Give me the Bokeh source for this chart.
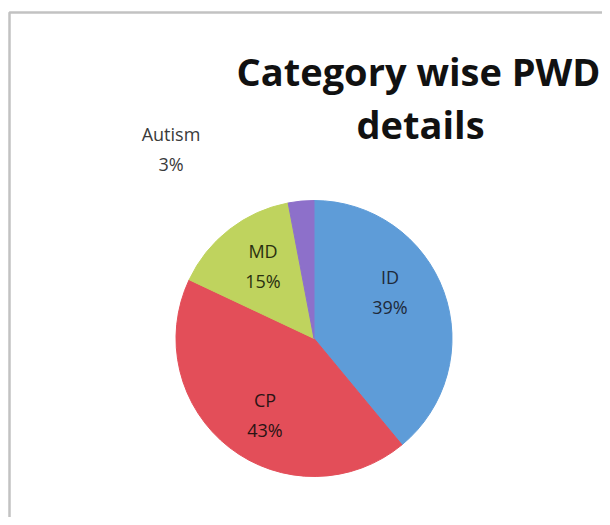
import math
from bokeh.plotting import figure
from bokeh.models import ColumnDataSource, Range1d
from bokeh.core.properties import value
from bokeh.embed import file_html
from bokeh.resources import INLINE

# ---- data ----
categories = ["ID", "CP", "MD", "Autism"]
percents = [39, 43, 15, 3]
colors = ["#5E9CD8", "#E34E59", "#BFD35E", "#8D70CA"]
title_lines = ["Category wise PWD", "details"]

W, H = 602, 517
p = figure(width=W, height=H, output_backend="svg", toolbar_location=None,
           x_range=Range1d(0, W), y_range=Range1d(0, H), min_border=0)
p.axis.visible = False
p.grid.visible = False
p.outline_line_color = None
p.background_fill_color = "white"
p.border_fill_color = "white"

def Y(py):
    return H - py

# frame of the scanned box (top and left edges)
p.line(x=[9, 9, W], y=[0, Y(12), Y(12)], line_color="#c2c2c2", line_width=2.5)

cx, cy, r = 313.5, Y(338), 138
total = sum(percents)
starts, ends = [], []
cum = 0.0
for v in percents:
    starts.append(math.pi / 2 - 2 * math.pi * cum / total)
    cum += v
    ends.append(math.pi / 2 - 2 * math.pi * cum / total)

src = ColumnDataSource(dict(start=starts, end=ends, color=colors, cat=categories, pct=percents))
p.wedge(x=cx, y=cy, radius=r, start_angle="start", end_angle="end", direction="clock",
        fill_color="color", line_color="color", line_width=1, source=src)

# data-label offsets from pie centre (pixels, y up)
lab_off = [(76, 47), (-49, -76), (-51, 73), (-143, 190)]
lab_col = ["#1f2a3a", "#2a1414", "#2a3010", "#3a3a3a"]
nx, ny, nt, px, py, pt, cc = [], [], [], [], [], [], []
for i, (c, v) in enumerate(zip(categories, percents)):
    x = cx + lab_off[i][0]
    y = cy + lab_off[i][1]
    nx.append(x); ny.append(y + 15); nt.append(c)
    px.append(x); py.append(y - 15); pt.append(f"{v}%")
    cc.append(lab_col[i])
for xs, ys, ts in ((nx, ny, nt), (px, py, pt)):
    p.text(x=xs, y=ys, text=ts, text_align="center", text_baseline="middle",
           text_font=value("Open Sans"), text_font_size="18px", text_color=cc)

# title
p.text(x=[418, 420], y=[Y(70), Y(123)], text=title_lines, text_align="center",
       text_baseline="alphabetic", text_font=value("Open Sans"), text_font_style="bold",
       text_font_size="38px", text_color="#111111")

open("out.html", "w").write(file_html(p, INLINE))
